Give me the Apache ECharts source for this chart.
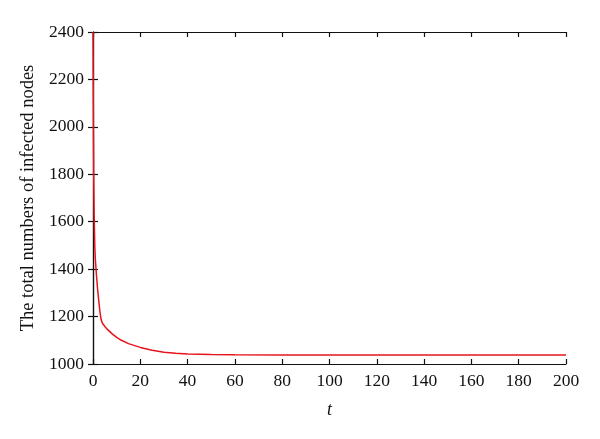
<!DOCTYPE html>
<html>
<head>
<meta charset="utf-8">
<script src="https://cdn.jsdelivr.net/npm/echarts@6/dist/echarts.min.js"></script>
<style>
html,body{margin:0;padding:0;background:#fff;}
#chart{width:600px;height:439px;}
</style>
</head>
<body>
<div id="chart"></div>
<script>
var tValues = [0, 0.1, 0.2, 0.3, 0.5, 0.75, 1, 1.5, 2, 2.5, 3, 3.5, 4, 5, 6, 8, 10, 12, 15, 20, 25, 30, 35, 40, 50, 60, 80, 100, 120, 140, 160, 180, 200];
var infected = [2400, 2150, 1950, 1800, 1620, 1500, 1440, 1370, 1310, 1260, 1215, 1185, 1172, 1158, 1147, 1128, 1112, 1100, 1086, 1070, 1058, 1050, 1045, 1042, 1040, 1039, 1038, 1038, 1038, 1038, 1038, 1038, 1038];
var xTicks = [0, 20, 40, 60, 80, 100, 120, 140, 160, 180, 200];
var yTicks = [1000, 1200, 1400, 1600, 1800, 2000, 2200, 2400];

var data = tValues.map(function (t, i) { return [t, infected[i]]; });
var font = 'Liberation Serif';
var axisLine = { show: true, lineStyle: { color: '#111', width: 1.2 } };
var tickIn = { show: true, inside: true, length: 5, lineStyle: { color: '#111', width: 1.2 } };
var plain = function (v) { return String(v); };

var chart = echarts.init(document.getElementById('chart'));
chart.setOption({
  animation: false,
  grid: { left: 93, right: 34, top: 32, bottom: 75 },
  xAxis: [{
    type: 'value', min: xTicks[0], max: xTicks[xTicks.length - 1], interval: 20,
    position: 'bottom',
    name: 't', nameLocation: 'middle', nameGap: 37,
    nameTextStyle: { fontFamily: font, fontSize: 18, fontStyle: 'italic', color: '#111' },
    axisLine: axisLine, axisTick: tickIn,
    axisLabel: { fontFamily: font, fontSize: 17.5, color: '#111', margin: 8, formatter: plain },
    splitLine: { show: false }
  }, {
    type: 'value', min: xTicks[0], max: xTicks[xTicks.length - 1], interval: 20,
    position: 'top',
    axisLine: axisLine, axisTick: tickIn,
    axisLabel: { show: false }, splitLine: { show: false }
  }],
  yAxis: [{
    type: 'value', min: yTicks[0], max: yTicks[yTicks.length - 1], interval: 200,
    position: 'left',
    name: 'The total numbers of infected nodes', nameLocation: 'middle', nameGap: 54,
    nameTextStyle: { fontFamily: font, fontSize: 18.5, color: '#111' },
    axisLine: axisLine, axisTick: tickIn,
    axisLabel: { fontFamily: font, fontSize: 17.5, color: '#111', margin: 9, formatter: plain },
    splitLine: { show: false }
  }, {
    type: 'value', min: yTicks[0], max: yTicks[yTicks.length - 1], interval: 200,
    position: 'right',
    axisLine: axisLine, axisTick: tickIn,
    axisLabel: { show: false }, splitLine: { show: false }
  }],
  series: [{
    type: 'line', data: data, xAxisIndex: 0, yAxisIndex: 0,
    showSymbol: false, smooth: false,
    lineStyle: { color: '#e8141c', width: 1.5 },
    itemStyle: { color: '#e8141c' }
  }]
});
</script>
</body>
</html>
